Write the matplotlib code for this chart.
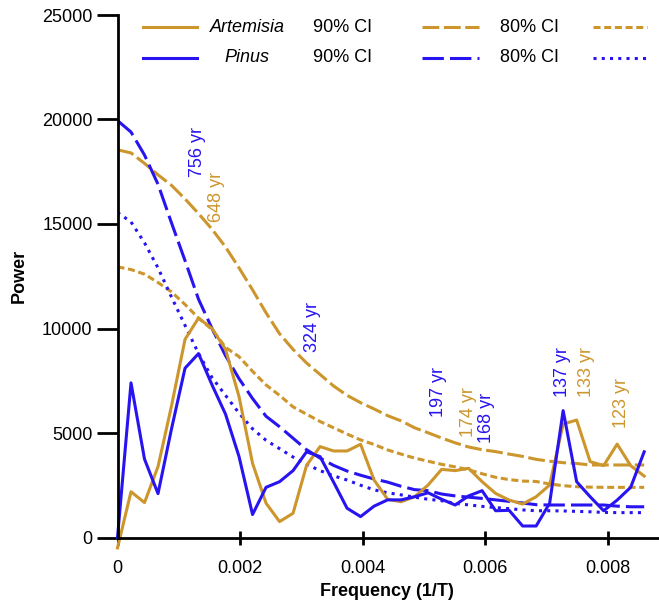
import numpy as np
import matplotlib
matplotlib.use('Agg')
import matplotlib.pyplot as plt
from matplotlib.lines import Line2D

plt.rcParams['font.family'] = ['Liberation Sans', 'DejaVu Sans']

# frequency grid (1/T), 40 harmonics
freq = np.arange(40) / 4536.0

artemisia = [-500, 2190, 1670, 3390, 6300, 9480, 10500, 10000, 9000, 6740,
             3550, 1640, 760, 1160, 3450, 4350, 4140, 4140, 4460, 2750,
             1830, 1710, 1950, 2510, 3260, 3200, 3310, 2670, 2110, 1790,
             1600, 1950, 2510, 5430, 5620, 3630, 3440, 4470, 3440, 2940]
artemisia_90 = [18550, 18400, 17900, 17350, 16850, 16200, 15500, 14750, 13900, 12900,
                11850, 10750, 9750, 9000, 8350, 7800, 7250, 6800, 6450, 6150,
                5830, 5580, 5250, 5010, 4760, 4530, 4330, 4200, 4110, 3990,
                3880, 3740, 3650, 3580, 3540, 3470, 3470, 3470, 3470, 3470]
artemisia_80 = [12950, 12820, 12600, 12200, 11750, 11150, 10500, 9950, 9100, 8650,
                7950, 7300, 6800, 6250, 5900, 5550, 5250, 4950, 4670, 4450,
                4190, 3990, 3800, 3650, 3500, 3380, 3240, 3050, 2880, 2770,
                2700, 2680, 2560, 2480, 2430, 2410, 2400, 2400, 2400, 2400]

pinus = [0, 7400, 3750, 2100, 5200, 8100, 8800, 7300, 5900, 3870,
         1100, 2400, 2670, 3200, 4100, 3870, 2650, 1400, 1000, 1500,
         1800, 1800, 1950, 2140, 1830, 1555, 1990, 2240, 1280, 1300,
         550, 550, 1640, 6070, 2670, 1950, 1280, 1790, 2400, 4100]
pinus_90 = [19950, 19400, 18300, 16900, 15050, 13250, 11400, 10000, 8700, 7600,
            6650, 5800, 5300, 4750, 4200, 3800, 3450, 3180, 2980, 2800,
            2650, 2450, 2290, 2240, 2080, 1990, 1930, 1870, 1800, 1730,
            1650, 1570, 1555, 1555, 1555, 1555, 1555, 1500, 1470, 1470]
pinus_80 = [15550, 15100, 14100, 12900, 11500, 10150, 8800, 7650, 6800, 5950,
            5200, 4650, 4250, 3850, 3500, 3200, 2950, 2750, 2500, 2280,
            2140, 2040, 1930, 1830, 1760, 1630, 1560, 1490, 1430, 1380,
            1320, 1280, 1280, 1270, 1250, 1230, 1200, 1190, 1190, 1190]

# peak labels: text, frequency, power, species
peaks = [('756 yr', 0.001306, 17250, 'pinus'),
         ('648 yr', 0.00161, 15110, 'artemisia'),
         ('324 yr', 0.003176, 8890, 'pinus'),
         ('197 yr', 0.00524, 5780, 'pinus'),
         ('174 yr', 0.00573, 4820, 'artemisia'),
         ('168 yr', 0.00603, 4510, 'pinus'),
         ('137 yr', 0.00727, 6740, 'pinus'),
         ('133 yr', 0.00765, 6740, 'artemisia'),
         ('123 yr', 0.00822, 5230, 'artemisia')]

gold = '#CD962D'
blue = '#2814F0'
colors = {'artemisia': gold, 'pinus': blue}

styles = {
    'solid': dict(linestyle='-'),
    'dash_gold': dict(linestyle=(0, (5.5, 1.5))),
    'dash_blue': dict(linestyle=(0, (7, 2))),
    'short': dict(linestyle=(0, (2.3, 1.2))),
    'dot': dict(linestyle=(0, (1, 1.7))),
}

fig = plt.figure(figsize=(6.59, 6.05), dpi=100)
ax = fig.add_axes([117.5/659, 67.5/605, 541.5/659, 522.5/605])

lw = 2.2
ax.plot(freq, artemisia_90, color=gold, lw=lw, **styles['dash_gold'])
ax.plot(freq, artemisia_80, color=gold, lw=lw, **styles['short'])
ax.plot(freq, pinus_90, color=blue, lw=lw, **styles['dash_blue'])
ax.plot(freq, pinus_80, color=blue, lw=lw, **styles['dot'])
ax.plot(freq, artemisia, color=gold, lw=lw, clip_on=False)
ax.plot(freq, pinus, color=blue, lw=lw, clip_on=False)

for txt, f, p, sp in peaks:
    ax.text(f, p, txt, rotation=90, ha='center', va='bottom',
            color=colors[sp], fontsize=13)

ax.set_xlim(0, 0.00884)
ax.set_ylim(0, 25000)
ax.set_xticks([0, 0.002, 0.004, 0.006, 0.008])
ax.set_xticklabels(['0', '0.002', '0.004', '0.006', '0.008'])
ax.set_yticks([0, 5000, 10000, 15000, 20000, 25000])
ax.set_yticklabels(['0', '5000', '10000', '15000', '20000', '25000'])

for s in ['top', 'right']:
    ax.spines[s].set_visible(False)
for s in ['left', 'bottom']:
    ax.spines[s].set_linewidth(2)
ax.tick_params(axis='y', direction='out', length=15, width=2, pad=3, labelsize=13)
ax.tick_params(axis='x', direction='inout', length=10, width=2, pad=11, labelsize=13)

ax.set_xlabel('Frequency (1/T)', fontsize=13, fontweight='bold')
ax.set_ylabel('Power', fontsize=13, fontweight='bold')
ax.yaxis.set_label_coords(-0.165, 0.5)
ax.xaxis.set_label_coords(0.498, -0.087)


# hand-made legend table
def fx(px):
    return px / 659.0


def fy(py):
    return 1 - py / 605.0


rows = [(27, gold, 'Artemisia', 'dash_gold'), (58, blue, 'Pinus', 'dash_blue')]
for py, c, name, dstyle in rows:
    fig.add_artist(Line2D([fx(143), fx(197)], [fy(py), fy(py)], color=c, lw=lw,
                          transform=fig.transFigure))
    fig.text(fx(247), fy(py), name, style='italic', fontsize=13, ha='center', va='center')
    fig.text(fx(343), fy(py), '90% CI', fontsize=13, ha='center', va='center')
    fig.add_artist(Line2D([fx(422), fx(479)], [fy(py), fy(py)], color=c, lw=lw,
                          transform=fig.transFigure, **styles[dstyle]))
    fig.text(fx(530), fy(py), '80% CI', fontsize=13, ha='center', va='center')
    st = 'short' if c == gold else 'dot'
    fig.add_artist(Line2D([fx(593), fx(647)], [fy(py), fy(py)], color=c, lw=lw,
                          transform=fig.transFigure, **styles[st]))

fig.savefig('out.png', dpi=100)
